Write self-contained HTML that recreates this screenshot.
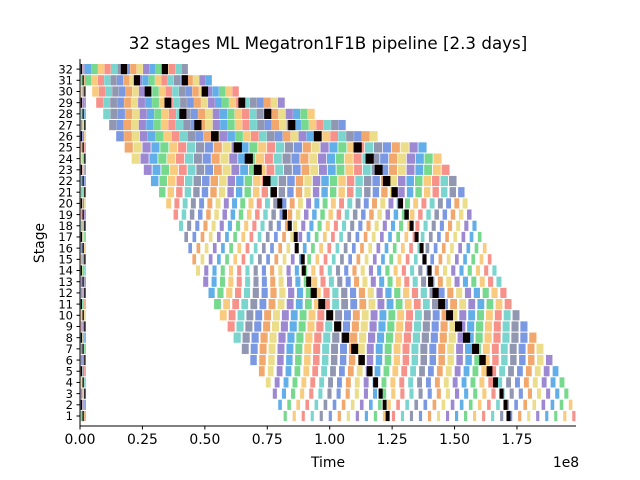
<!DOCTYPE html>
<html><head><meta charset="utf-8"><style>
body{margin:0;background:#fff}
svg{display:block;font-family:"DejaVu Sans","Liberation Sans",sans-serif}
</style></head><body>
<svg id="chart" width="640" height="480" viewBox="0 0 640 480">
<rect width="640" height="480" fill="#fff"/>
<g id="bars"></g>
<g id="axes"></g>
<text x="328" y="49" text-anchor="middle" font-size="16.7">32 stages ML Megatron1F1B pipeline [2.3 days]</text>
<text x="328" y="467" text-anchor="middle" font-size="13.9">Time</text>
<text x="44" y="243" text-anchor="middle" font-size="13.9" transform="rotate(-90 44 243)">Stage</text>
<text x="566" y="467" text-anchor="middle" font-size="13.9">1e8</text>
</svg>
<script>
// data (time in units of 1e6), stages listed from 32 down to 1
const stages=[32,31,30,29,28,27,26,25,24,23,22,21,20,19,18,17,16,15,14,13,12,11,10,9,8,7,6,5,4,3,2,1];
const startTime=[2,2,4.8,6.4,9.2,11.6,14.4,17.6,20.4,25.2,28,30.8,33.2,36,38,40,41.6,43.2,44.8,48,50.4,52.8,55.2,58.4,60.8,64,67.2,70.4,72.8,75.2,77.2,79.2];
const endTime=[43.2,52.8,63.6,82,94,106.4,119.2,138.8,144.8,148,150.8,154,155.2,156.8,158.8,160.8,162.8,164.8,166.8,168.8,170.8,172.8,176,179.2,182.8,185.6,189.2,191.6,194,195.6,197.2,198.4];
const black1Time=[17.6,22.8,27.2,35.2,41.2,47.2,54,63.2,67.6,71.2,74.8,77.6,80,82,84,86.4,86.8,89.2,89.6,91.6,93.6,96.8,100,103.2,106.4,110,112.8,116,118.4,120.4,122,123.2];
const black2Time=[34,42,50,64.8,75.2,84.8,95.2,111.2,116,119.6,122.8,126,128.4,130.8,132.8,134.8,136.8,138,140,140.4,142.4,144.8,148,151.6,154.8,158.4,161.2,164,166.4,168.8,170.4,171.6];
const opDuration=[2.5,2.6,2.7,2.8,2.9,3,3.2,3.6,3.6,3.5,3.4,3.4,3.3,3.3,3.3,3.3,3.3,3.3,3.3,3.4,3.5,3.6,3.6,3.6,3.6,3.6,3.6,3.6,3.6,3.6,3.6,3.6];
const busyFrac=[0.97,0.97,0.97,0.97,0.97,0.97,0.97,0.92,0.92,0.9,0.88,0.75,0.6,0.55,0.5,0.45,0.45,0.45,0.5,0.6,0.7,0.75,0.78,0.8,0.8,0.78,0.72,0.65,0.55,0.45,0.4,0.35];
const xTicks=[0,0.25,0.5,0.75,1.0,1.25,1.5,1.75];
const xTickLabels=["0.00","0.25","0.50","0.75","1.00","1.25","1.50","1.75"];
const palette=['#62aee8','#76d98e','#f9cb7e','#f7928a','#7bd5cf','#9197b1','#7b98e2','#f2a86c','#ebdd8a','#9d88d2'];
const X0=80,PX_PER_1E8=249.7;
function xs(t6){return X0+t6/100*PX_PER_1E8;}
function ys(s){return 416-(s-1)*11.19;}
const NS="http://www.w3.org/2000/svg";
const gb=document.getElementById('bars'),ga=document.getElementById('axes');
function mk(tag,attrs,parent){const e=document.createElementNS(NS,tag);for(const k in attrs)e.setAttribute(k,attrs[k]);parent.appendChild(e);return e;}
const H=10.2;
stages.forEach((s,i)=>{
  const y=ys(s)-H/2;
  for(let k=0;k<3;k++){
    const r=mk('rect',{x:xs(0.3+k*0.7),y:y,width:1.6,height:H,fill:palette[(i+k*3)%10]},gb);
    
    
  }
  const wb=mk('rect',{x:xs(0.3+(i%3)*0.7),y:y,width:1.2,height:H,fill:'#000'},gb);
  
  
  const d=opDuration[i];
  const n=Math.max(1,Math.round((endTime[i]-startTime[i])/d));
  const step=(endTime[i]-startTime[i])/n;
  const w=(xs(step)-xs(0))*busyFrac[i];
  const off=(xs(step)-xs(0))-w;
  for(let k=0;k<n;k++){
    const t=startTime[i]+k*step;
    const r=mk('rect',{x:xs(t)+off,y:y,width:w,height:H,fill:palette[(k+i)%10]},gb);
    
    
  }
  [black1Time[i],black2Time[i]].forEach(t=>{
    const bw=Math.max(w,4);
    const r=mk('rect',{x:xs(t)-bw/2,y:y,width:bw,height:H,fill:'#0a0000'},gb);
    
    
  });
});
mk('line',{x1:80,y1:59,x2:80,y2:426.5,stroke:'#000','stroke-width':1},ga);
mk('line',{x1:79.5,y1:426,x2:576,y2:426,stroke:'#000','stroke-width':1},ga);
stages.forEach(s=>{
  mk('line',{x1:76.5,y1:ys(s),x2:80,y2:ys(s),stroke:'#000','stroke-width':1},ga);
  const t=mk('text',{x:73,y:ys(s)+4.2,'text-anchor':'end','font-size':11.5},ga);
  t.textContent=s;
  
  
});
xTicks.forEach((v,i)=>{
  const x=xs(v*100);
  mk('line',{x1:x,y1:426,x2:x,y2:429.5,stroke:'#000','stroke-width':1},ga);
  const t=mk('text',{x:x,y:444,'text-anchor':'middle','font-size':13.9},ga);
  t.textContent=xTickLabels[i];
  
  
});
</script>
</body></html>
